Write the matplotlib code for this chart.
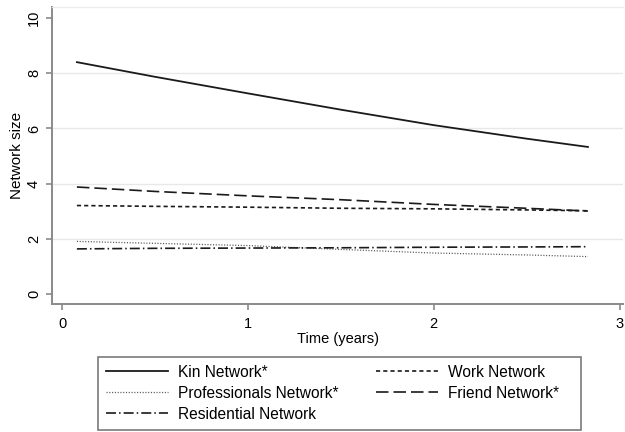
"""
Mean network size over follow-up time, by network type.
"""

import matplotlib
matplotlib.use("Agg")
import matplotlib.pyplot as plt
from matplotlib.patches import Rectangle

plt.rcParams["font.family"] = ["Liberation Sans", "DejaVu Sans"]
plt.rcParams["lines.scale_dashes"] = False

# Time points (years since baseline)
time_years = [0.08, 0.5, 1.0, 1.5, 2.0, 2.5, 2.83]

# Predicted network size per type
kin = [8.40, 7.87, 7.27, 6.68, 6.12, 5.63, 5.33]
work = [3.21, 3.18, 3.15, 3.11, 3.09, 3.05, 3.02]
professionals = [1.91, 1.84, 1.76, 1.62, 1.49, 1.42, 1.36]
friend = [3.88, 3.72, 3.56, 3.42, 3.25, 3.11, 3.01]
residential = [1.64, 1.66, 1.67, 1.68, 1.70, 1.71, 1.72]

labels = ["Kin Network*", "Work Network", "Professionals Network*",
          "Friend Network*", "Residential Network"]

W, H = 625, 432
fig = plt.figure(figsize=(W / 100, H / 100), dpi=100)
ax = fig.add_axes([0.0832, 0.296, 0.914, 0.688])

ink = "#1a1a1a"
h_kin, = ax.plot(time_years, kin, color=ink, lw=1.3, linestyle="-")
h_work, = ax.plot(time_years, work, color=ink, lw=1.2,
                  linestyle=(0, (3.0, 2.2)))
h_prof, = ax.plot(time_years, professionals, color="#555555", lw=0.9,
                  linestyle=(0, (0.8, 1.2)))
h_friend, = ax.plot(time_years, friend, color=ink, lw=1.2,
                    linestyle=(0, (9.0, 3.6)))
h_res, = ax.plot(time_years, residential, color=ink, lw=1.2,
                 linestyle=(0, (7.2, 2.2, 1.1, 2.2)))

ax.set_xlim(-0.054, 3.02)
ax.set_ylim(-0.36, 10.4)
ax.set_xticks([0, 1, 2, 3])
ax.set_yticks([0, 2, 4, 6, 8, 10])

# light horizontal grid, no line at the extremes
for yv in [2, 4, 6, 8]:
    ax.axhline(yv, color="#e8e8e8", lw=1.0, zorder=0)

axis_grey = "#8a8a8a"
for side in ["left", "bottom"]:
    ax.spines[side].set_color(axis_grey)
    ax.spines[side].set_linewidth(1.4)
ax.spines["top"].set_color("#ececec")
ax.spines["top"].set_linewidth(1.0)
ax.spines["right"].set_visible(False)

ax.tick_params(axis="both", colors=axis_grey, width=1.2, length=4,
               labelcolor="black", labelsize=10.5)
ax.tick_params(axis="x", pad=5)
ax.tick_params(axis="y", pad=4)
for lbl in ax.get_yticklabels():
    lbl.set_rotation(90)
    lbl.set_verticalalignment("center")

ax.set_xlabel("Time (years)", fontsize=10.5, labelpad=1)
ax.set_ylabel("Network size", fontsize=11, labelpad=2)

# legend entries, two columns, inside a plain grey box
handles = [h_kin, h_prof, h_res, h_work, h_friend]
leg_labels = [labels[0], labels[2], labels[4], labels[1], labels[3]]
box_left, box_right, box_top, box_bottom = 98, 581, 357, 430
fig.patches.append(Rectangle(
    (box_left / W, 1 - box_bottom / H),
    (box_right - box_left) / W, (box_bottom - box_top) / H,
    transform=fig.transFigure, fill=False, edgecolor="#7a7a7a", lw=1.2))
fig.legend(handles, leg_labels, ncol=2, loc="upper left",
           bbox_to_anchor=(box_left / W, 1 - box_top / H),
           fontsize=11.2, handlelength=3.97, handletextpad=0.7,
           columnspacing=2.37, labelspacing=0.38, borderpad=0.5,
           borderaxespad=0.0, frameon=False)

fig.savefig("out.png", dpi=100)
